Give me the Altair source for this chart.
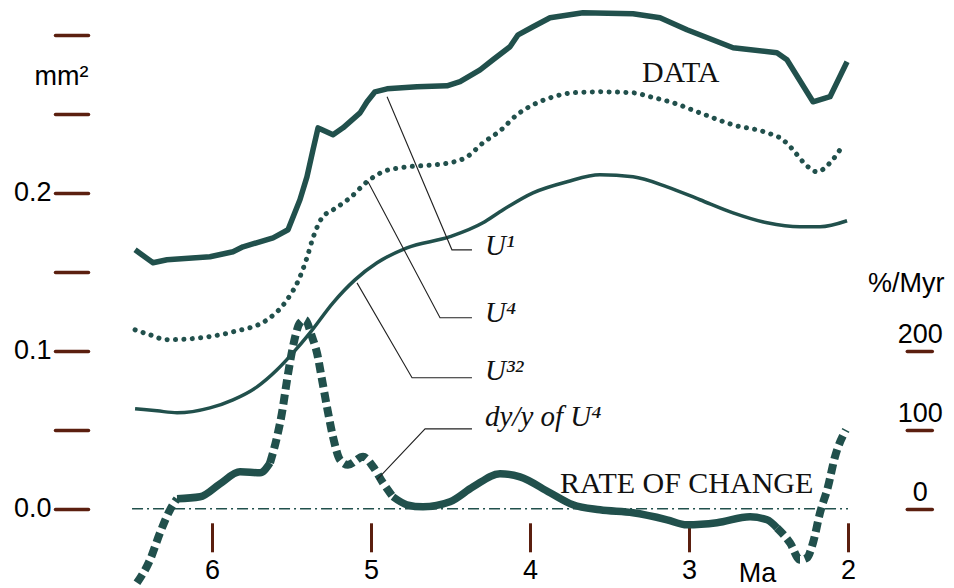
import altair as alt
import pandas as pd

# ---------------- data ----------------
data_ma = [6.484, 6.371, 6.283, 6.013, 5.868, 5.805, 5.616, 5.522, 5.447, 5.403,
           5.365, 5.333, 5.308, 5.239, 5.176, 5.069, 5.025, 4.975, 4.899, 4.711,
           4.522, 4.440, 4.314, 4.233, 4.126, 4.075, 3.981, 3.874, 3.667, 3.352,
           3.182, 3.013, 2.723, 2.447, 2.384, 2.220, 2.113, 2.006]
data_mm = [0.1639, 0.1557, 0.1576, 0.1595, 0.1627, 0.1658, 0.1715, 0.1766, 0.1956, 0.2101,
           0.2272, 0.2411, 0.2399, 0.2367, 0.2411, 0.2506, 0.2576, 0.2639, 0.2658, 0.2671,
           0.2677, 0.2703, 0.2778, 0.2842, 0.2924, 0.3000, 0.3051, 0.3108, 0.3139, 0.3133,
           0.3108, 0.3032, 0.2918, 0.2886, 0.2842, 0.2576, 0.2608, 0.2829]

u4_ma = [6.484, 6.390, 6.283, 6.075, 5.868, 5.654, 5.528, 5.447, 5.403, 5.365,
         5.308, 5.239, 5.132, 5.025, 4.925, 4.818, 4.610, 4.503, 4.396, 4.296,
         4.189, 4.082, 3.981, 3.874, 3.730, 3.560, 3.352, 3.245, 3.101, 2.931,
         2.723, 2.509, 2.409, 2.346, 2.283, 2.195, 2.113, 2.038]
u4_mm = [0.1133, 0.1101, 0.1070, 0.1082, 0.1120, 0.1196, 0.1323, 0.1468, 0.1589, 0.1715,
         0.1842, 0.1892, 0.1968, 0.2070, 0.2133, 0.2158, 0.2177, 0.2190, 0.2228, 0.2316,
         0.2392, 0.2494, 0.2557, 0.2601, 0.2633, 0.2639, 0.2633, 0.2608, 0.2570, 0.2506,
         0.2430, 0.2380, 0.2335, 0.2272, 0.2196, 0.2133, 0.2190, 0.2291]

u32_ma = [6.484, 6.346, 6.220, 6.013, 5.868, 5.717, 5.591, 5.491, 5.384, 5.239,
          5.101, 4.962, 4.774, 4.503, 4.296, 4.189, 3.981, 3.767, 3.560, 3.352,
          3.138, 2.931, 2.723, 2.509, 2.302, 2.176, 2.006]
u32_mm = [0.0633, 0.0620, 0.0608, 0.0639, 0.0690, 0.0772, 0.0880, 0.0987, 0.1114, 0.1304,
          0.1449, 0.1557, 0.1652, 0.1722, 0.1810, 0.1880, 0.2000, 0.2070, 0.2114, 0.2101,
          0.2038, 0.1956, 0.1873, 0.1810, 0.1785, 0.1785, 0.1823]

# rate of change dy/y of U4, %/Myr
rate_ma = [6.472, 6.390, 6.327, 6.264, 6.220, 6.075, 5.950, 5.824, 5.698, 5.635,
           5.591, 5.560, 5.528, 5.491, 5.447, 5.415, 5.371, 5.340, 5.308, 5.277,
           5.239, 5.195, 5.145, 5.050, 4.987, 4.925, 4.862, 4.774, 4.673, 4.503,
           4.358, 4.189, 4.063, 3.874, 3.730, 3.560, 3.352, 3.138, 3.013, 2.824,
           2.616, 2.509, 2.447, 2.365, 2.302, 2.258, 2.220, 2.176, 2.126, 2.082, 2.013]
rate_val = [-93.7, -64.6, -30.4, -1.3, 12.7, 15.2, 31.6, 46.8, 45.6, 58.2,
            91.1, 121.5, 163.3, 205.1, 235.4, 239.2, 217.7, 197.5, 163.3, 129.1,
            91.1, 62.0, 55.7, 65.8, 53.2, 32.9, 15.2, 5.1, 2.5, 8.9,
            27.8, 44.3, 40.5, 20.3, 5.1, -1.3, -5.1, -13.9, -20.3, -17.7,
            -10.1, -13.9, -24.1, -43.0, -64.6, -62.0, -43.0, -5.1, 27.8, 65.8, 100.0]
# line style pieces of the rate curve: (from Ma, to Ma, style)
rate_pieces = [(6.472, 6.220, "dashed"), (6.220, 5.635, "solid"),
               (5.635, 4.862, "dashed"), (4.862, 2.447, "solid"),
               (2.447, 2.013, "dashed")]

# leader lines of the annotations
leader_ma = [4.899, 4.491, 4.365, 5.019, 4.566, 4.365, 5.088, 4.742, 4.365, 4.962, 4.660, 4.365]
leader_mm = [0.2608, 0.1639, 0.1639, 0.2070, 0.1209, 0.1209, 0.1430, 0.0829, 0.0829, 0.0184, 0.0506, 0.0506]
leader_grp = ["U1", "U1", "U1", "U4", "U4", "U4", "U32", "U32", "U32", "dy", "dy", "dy"]

italic_text = ["U\u00b9", "U\u2074", "U\u00b3\u00b2", "dy/y of U\u2074"]
italic_ma = [4.283, 4.283, 4.283, 4.283]
italic_mm = [0.1608, 0.1184, 0.0816, 0.0525]

caps_text = ["DATA", "RATE OF CHANGE"]
caps_ma = [3.296, 3.811]
caps_mm = [0.2703, 0.0101]

zero_from, zero_to = 6.503, 2.0

# ---------------- tables ----------------
df_data = pd.DataFrame({"ma": data_ma, "mm": data_mm})
df_u4 = pd.DataFrame({"ma": u4_ma, "mm": u4_mm})
df_u32 = pd.DataFrame({"ma": u32_ma, "mm": u32_mm})
rows = []
for i, (a, b, st) in enumerate(rate_pieces):
    for m, v in zip(rate_ma, rate_val):
        if b - 1e-9 <= m <= a + 1e-9:
            rows.append({"ma": m, "rate": v, "seg": i, "style": st})
df_rate = pd.DataFrame(rows)
df_lead = pd.DataFrame({"ma": leader_ma, "mm": leader_mm, "grp": leader_grp,
                        "k": list(range(len(leader_ma)))})
df_ital = pd.DataFrame({"ma": italic_ma, "mm": italic_mm, "t": italic_text})
df_caps = pd.DataFrame({"ma": caps_ma, "mm": caps_mm, "t": caps_text})
df_zero = pd.DataFrame({"ma": [zero_from], "ma2": [zero_to], "mm": [0.0]})

# ---------------- styling ----------------
TEAL = "#21504c"
BROWN = "#5b1f0f"
SANS = "Liberation Sans"
SERIF = "Liberation Serif"

x_scale = alt.Scale(domain=[6.78, 1.8], nice=False, zero=False)
y_scale = alt.Scale(domain=[-0.05, 0.31], nice=False, zero=False)
r_scale = alt.Scale(domain=[-100, 620], nice=False, zero=False)

x_axis = alt.Axis(values=[6, 5, 4, 3, 2], format="d", domain=False, grid=False,
                  tickSize=29, tickWidth=3, tickColor=BROWN, offset=-65,
                  labelFont=SANS, labelFontSize=27, labelColor="black", labelPadding=6,
                  title="Ma", titleFont=SANS, titleFontSize=27, titleFontWeight="normal",
                  titleColor="black", titleX=669, titleY=59, titleAlign="center",
                  titleBaseline="alphabetic")
X = alt.X("ma:Q", scale=x_scale, axis=x_axis)

y_axis = alt.Axis(values=[0, 0.05, 0.1, 0.15, 0.2, 0.25, 0.3],
                  labelExpr="(abs(datum.value) < 1e-6 || abs(datum.value - 0.1) < 1e-6 || abs(datum.value - 0.2) < 1e-6) ? format(datum.value, '.1f') : ''",
                  domain=False, grid=False, tickSize=33, tickWidth=3.5, tickColor=BROWN,
                  tickCap="round", labelFont=SANS, labelFontSize=27, labelColor="black",
                  labelPadding=4, title="mm\u00b2", titleFont=SANS, titleFontSize=27,
                  titleFontWeight="normal", titleColor="black", titleAngle=0,
                  titleX=-27, titleY=66, titleAlign="center", titleBaseline="alphabetic")

r_axis = alt.Axis(orient="right", values=[0, 100, 200], domain=False, grid=False,
                  offset=27, tickSize=25, tickWidth=3.5, tickColor=BROWN, tickCap="round",
                  labelAlign="center", labelBaseline="alphabetic", labelPadding=-12,
                  labelOffset=-8, labelFont=SANS, labelFontSize=27, labelColor="black",
                  title="%/Myr", titleFont=SANS, titleFontSize=27, titleFontWeight="normal",
                  titleColor="black", titleAngle=0, titleX=-1, titleY=273,
                  titleAlign="center", titleBaseline="alphabetic")

Y_main = alt.Y("mm:Q", scale=y_scale, axis=y_axis)
Y_plain = alt.Y("mm:Q", scale=y_scale, axis=None)

data_line = alt.Chart(df_data).mark_line(color=TEAL, strokeWidth=5.5, strokeJoin="round").encode(
    x=X, y=Y_main)

zero_line = alt.Chart(df_zero).mark_rule(color=TEAL, strokeWidth=1.5, strokeDash=[11, 4, 2, 4]).encode(
    x=X, x2="ma2:Q", y=Y_plain)

u4_line = alt.Chart(df_u4).mark_line(color=TEAL, strokeWidth=5, strokeCap="round",
                                     strokeDash=[0.1, 8.3], interpolate="monotone").encode(
    x=X, y=Y_plain)

u32_line = alt.Chart(df_u32).mark_line(color=TEAL, strokeWidth=3.5, interpolate="monotone").encode(
    x=X, y=Y_plain)

rate_solid = alt.Chart(df_rate).transform_filter(alt.datum.style == "solid").mark_line(
    color=TEAL, strokeWidth=7.5, interpolate="monotone").encode(
    x=X, y=alt.Y("rate:Q", scale=r_scale, axis=r_axis), detail="seg:N")

rate_dash = alt.Chart(df_rate).transform_filter(alt.datum.style == "dashed").mark_line(
    color=TEAL, strokeWidth=8, strokeDash=[10, 5], interpolate="monotone").encode(
    x=X, y=alt.Y("rate:Q", scale=r_scale, axis=None), detail="seg:N")

leaders = alt.Chart(df_lead).mark_line(color="#222222", strokeWidth=1.1).encode(
    x=X, y=Y_plain, detail="grp:N", order="k:Q")

ital = alt.Chart(df_ital).mark_text(font=SERIF, fontSize=29, fontStyle="italic",
                                    align="left", baseline="alphabetic", color="#111111").encode(
    x=X, y=Y_plain, text="t:N")

caps = alt.Chart(df_caps).mark_text(font=SERIF, fontSize=30, align="left",
                                    baseline="alphabetic", color="#111111").encode(
    x=X, y=Y_plain, text="t:N")

chart = alt.layer(data_line, zero_line, u4_line, u32_line, rate_solid, rate_dash,
                  leaders, ital, caps).resolve_scale(y="independent").properties(
    width=791.8, height=568.8,
    background="white",
    autosize=alt.AutoSizeParams(type="none"),
    padding={"left": 80, "top": 11, "right": 66, "bottom": 0},
).configure_view(strokeWidth=0, stroke=None)

chart.save("out.html", embed_options={"renderer": "svg", "actions": False})
